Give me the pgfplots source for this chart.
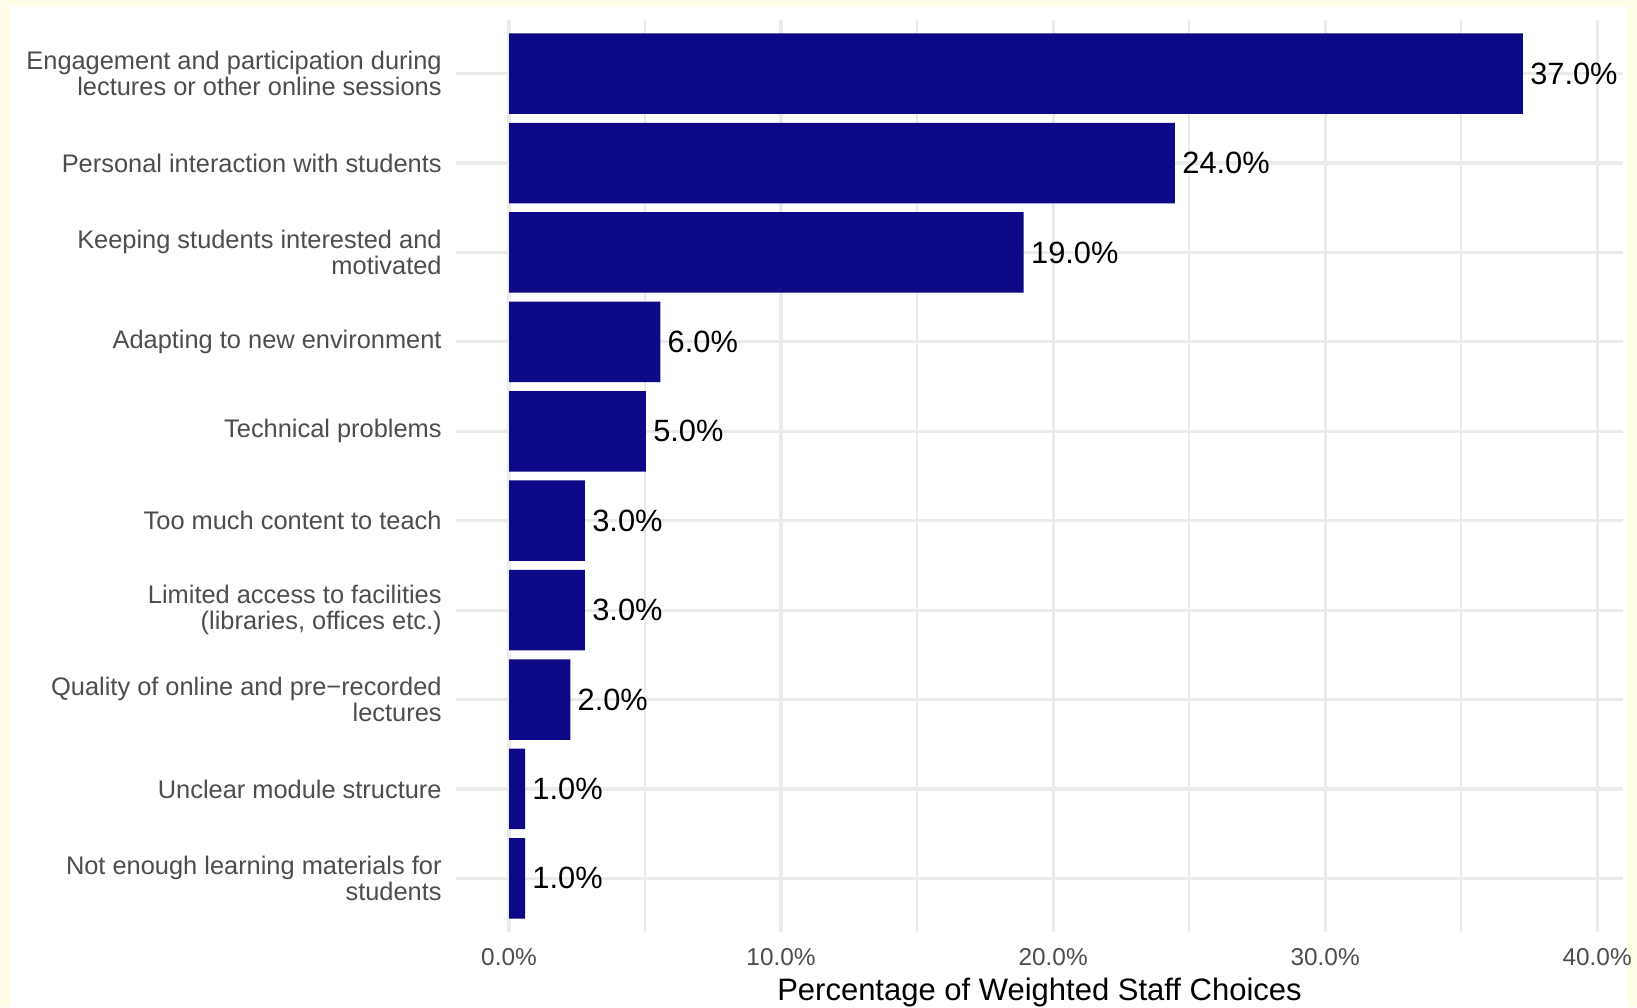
\documentclass[border=0pt]{standalone}
\usepackage{pgfplots}
\pgfplotsset{compat=1.18}
\usepackage{fontspec}
\setmainfont{Liberation Sans}
\definecolor{bordery}{RGB}{255,253,231}
\definecolor{gridc}{RGB}{235,235,235}
\definecolor{barc}{HTML}{0D0887}
\definecolor{labc}{HTML}{4D4D4D}
\begin{document}
\begin{tikzpicture}
\fill[bordery] (0,0) rectangle (818.5pt,503.5pt);
\fill[white] (5pt,0) rectangle (813.5pt,500.5pt);
\useasboundingbox (0,0) rectangle (818.5pt,503.5pt);
\begin{axis}[
  at={(228pt,37.5pt)}, anchor=south west,
  scale only axis, width=583.5pt, height=456pt,
  xbar, bar width=0.9, bar shift=0pt,
  xmin=-1.95, xmax=40.95, ymin=0.4, ymax=10.6,
  axis line style={draw=none},
  major tick length=0pt, minor tick length=0pt,
  xtick={0,10,20,30,40},
  xticklabels={0.0\%,10.0\%,20.0\%,30.0\%,40.0\%},
  minor xtick={5,15,25,35},
  ytick={1,...,10},
  yticklabels={
    {Not enough learning materials for\\students},
    {Unclear module structure},
    {Quality of online and pre−recorded\\lectures},
    {Limited access to facilities\\(libraries, offices etc.)},
    {Too much content to teach},
    {Technical problems},
    {Adapting to new environment},
    {Keeping students interested and\\motivated},
    {Personal interaction with students},
    {Engagement and participation during\\lectures or other online sessions}},
  xmajorgrids, ymajorgrids, xminorgrids,
  major grid style={draw=gridc, line width=1.6pt},
  minor grid style={draw=gridc, line width=0.8pt},
  xticklabel style={font=\fontsize{12.2}{14}\selectfont, text=labc, inner sep=0pt, anchor=north, yshift=-8pt},
  yticklabel style={font=\fontsize{12.7}{13.2}\selectfont, text=labc, align=right, inner sep=0pt, anchor=east, xshift=-7pt},
  xlabel={Percentage of Weighted Staff Choices},
  every axis x label/.style={at={(axis description cs:0.5,0)}, anchor=base, yshift=-34pt, font=\fontsize{15.5}{18}\selectfont, text=black},
  point meta=explicit symbolic,
  nodes near coords,
  every node near coord/.append style={font=\fontsize{15.4}{17}\selectfont, text=black, anchor=west, inner sep=0pt, xshift=3.5pt},
]
\addplot[draw=none, fill=barc] table[meta=lab] {
x y lab
37.27 10 37.0\%
24.48 9 24.0\%
18.92 8 19.0\%
5.56 7 6.0\%
5.03 6 5.0\%
2.79 5 3.0\%
2.79 4 3.0\%
2.25 3 2.0\%
0.59 2 1.0\%
0.59 1 1.0\%
};
\end{axis}
\end{tikzpicture}
\end{document}
